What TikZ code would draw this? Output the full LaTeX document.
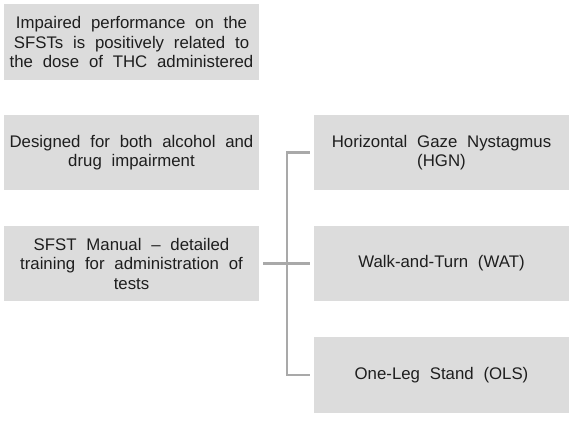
\documentclass[tikz,border=0pt]{standalone}
\usepackage{fontspec}
\setmainfont[WordSpace=2.1]{Liberation Sans}
\definecolor{boxfill}{HTML}{DCDCDC}
\definecolor{linegray}{HTML}{A9A9A9}
\definecolor{txt}{HTML}{1E1E1E}
\begin{document}
\begin{tikzpicture}[x=1pt,y=-1pt,
  box/.style={fill=boxfill, draw=none, text=txt, align=center, inner sep=0pt,
    font=\fontsize{16.8}{19.5}\selectfont, minimum width=255pt, minimum height=75pt},
  conn/.style={draw=linegray, line width=2.6pt}]
\useasboundingbox (0,0) rectangle (571,423);
\node[box, minimum height=76pt] (b1) at (131.5,42) {Impaired performance on the\\SFSTs is positively related to\\the dose of THC administered};
\node[box] (b2) at (131.5,152.5) {Designed for both alcohol and\\drug impairment};
\node[box] (b3) at (131.5,263.5) {SFST Manual – detailed\\training for administration of\\tests};
\node[box] (r1) at (441.5,152.5) {Horizontal Gaze Nystagmus\\(HGN)};
\node[box] (r2) at (441.5,263.5) {Walk-and-Turn (WAT)};
\node[box, minimum height=76pt] (r3) at (441.5,375) {One-Leg Stand (OLS)};
\coordinate (j) at (287,0);
\coordinate (jt) at (r1.west -| j);
\coordinate (jb) at (r3.west -| j);
\draw[conn] ([xshift=-4pt]r1.west) -- (jt) -- (jb) -- ([xshift=-4pt]r3.west);
\draw[conn] ([xshift=4pt]b3.east) -- ([xshift=-4pt]r2.west);
\end{tikzpicture}
\end{document}
